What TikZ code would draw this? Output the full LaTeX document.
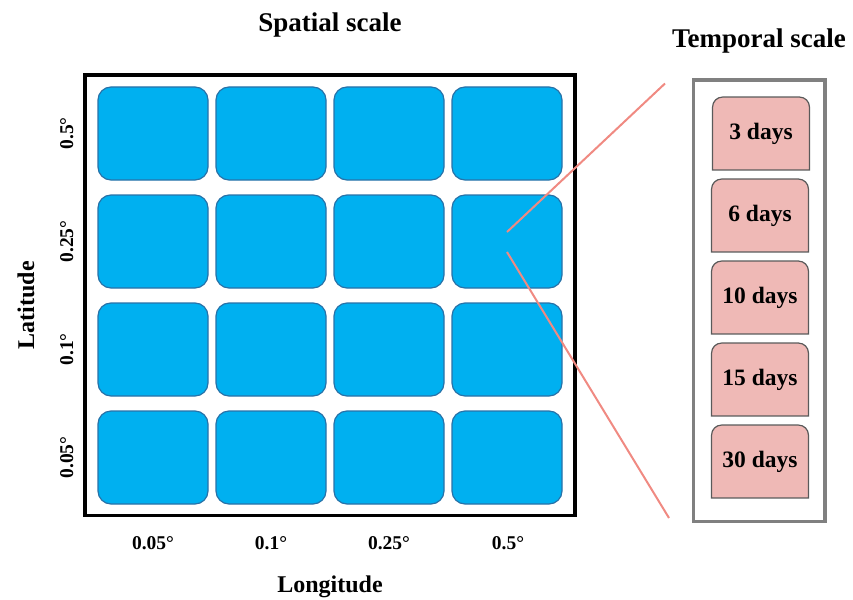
\documentclass[tikz,border=0pt]{standalone}
\usepackage{fontspec}
\setmainfont{Liberation Serif}
\usetikzlibrary{backgrounds}
\definecolor{cellblue}{HTML}{00B0F0}
\definecolor{cellborder}{HTML}{2872A8}
\definecolor{daypink}{HTML}{EFB9B6}
\definecolor{dayborder}{HTML}{5A5A5A}
\definecolor{framegray}{HTML}{808080}
\definecolor{magcolor}{HTML}{F08A82}
\begin{document}
\begin{tikzpicture}[x=1pt,y=-1pt,
  cell/.style={draw=cellborder, line width=1.2pt, fill=cellblue, rounded corners=13pt,
    minimum width=110pt, minimum height=93pt, inner sep=0pt},
  daylabel/.style={font=\fontsize{23.5}{28}\selectfont\bfseries,
    minimum width=96.5pt, minimum height=72.5pt, inner sep=0pt},
  dayshape/.style={draw=dayborder, line width=1.2pt, fill=daypink},
  title/.style={font=\fontsize{27}{32}\selectfont\bfseries, inner sep=0pt, anchor=base},
  axis/.style={font=\fontsize{24}{28}\selectfont\bfseries, inner sep=0pt, anchor=base},
  tick/.style={font=\fontsize{19.5}{23}\selectfont\bfseries, inner sep=0pt, anchor=base},
  magline/.style={draw=magcolor, line width=2pt}]
\useasboundingbox (0,0) rectangle (853,599);

% titles
\node[title] (tspatial) at (330,32) {Spatial scale};
\node[title] (ttemporal) at (759,48) {Temporal scale};

% spatial frame
\draw[line width=3.5pt] (85,75) rectangle (575,515.5);

% cells
\foreach \c/\x in {1/153,2/271,3/389,4/507}{
  \foreach \r/\y in {1/133.5,2/241.5,3/349.5,4/457.5}{
    \node[cell] (b\r\c) at (\x,\y) {};
  }
}

% axis ticks
\node[tick] (lx1) at (153,549) {0.05°};
\node[tick] (lx2) at (271,549) {0.1°};
\node[tick] (lx3) at (389,549) {0.25°};
\node[tick] (lx4) at (508,549) {0.5°};
\node[tick, rotate=90] (ly1) at (73,133.5) {0.5°};
\node[tick, rotate=90] (ly2) at (73,241.5) {0.25°};
\node[tick, rotate=90] (ly3) at (73,349.5) {0.1°};
\node[tick, rotate=90] (ly4) at (73,457.5) {0.05°};
\node[axis] (lon) at (330,592) {Longitude};
\node[axis, rotate=90] (lat) at (34,305) {Latitude};

% temporal frame
\draw[draw=framegray, line width=3.5pt] (693.5,80) rectangle (825,521.5);

% day boxes
\node[daylabel] (d3) at (761,133.5) {3 days};
\node[daylabel] (d6) at (760,215.5) {6 days};
\node[daylabel] (d10) at (760,297.5) {10 days};
\node[daylabel] (d15) at (760,379.5) {15 days};
\node[daylabel] (d30) at (760,461.5) {30 days};
\begin{scope}[on background layer]
\foreach \n in {d3,d6,d10,d15,d30}{
  \path[dayshape] (\n.south west) [rounded corners=10pt] -- (\n.north west) -- (\n.north east) [sharp corners] -- (\n.south east) -- cycle;
}
\end{scope}

% magnifier lines
\coordinate (z1) at (507,232);
\coordinate (z2) at (507,252);
\coordinate (t1) at (665,83.5);
\coordinate (t2) at (669,518);
\draw[magline] (z1) -- (t1);
\draw[magline] (z2) -- (t2);
\end{tikzpicture}
\end{document}
